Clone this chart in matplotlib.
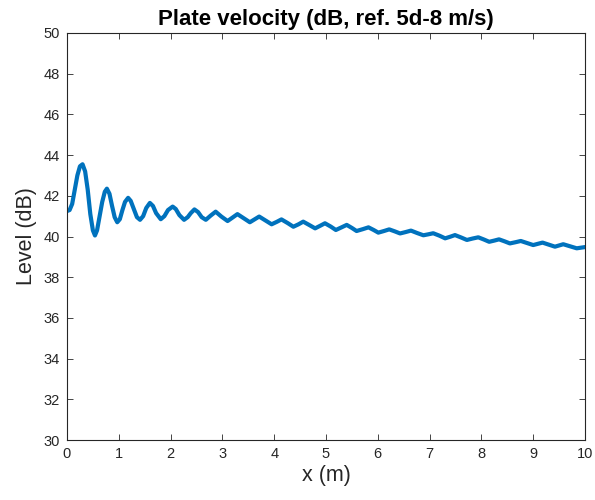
import matplotlib
matplotlib.use('Agg')
import matplotlib.pyplot as plt

# ── Data (x in m, level in dB) ───────────────────────────────────────────────

x_m = [0.00, 0.05, 0.10, 0.15, 0.20, 0.25, 0.30, 0.35, 0.40, 0.45,
       0.50, 0.54, 0.58, 0.63, 0.68, 0.73, 0.77, 0.82, 0.87, 0.92,
       0.97, 1.02, 1.07, 1.12, 1.18, 1.23, 1.29, 1.35, 1.41, 1.47,
       1.53, 1.60, 1.66, 1.72, 1.81, 1.88, 1.95, 2.04, 2.10, 2.17,
       2.26, 2.33, 2.39, 2.46, 2.53, 2.60, 2.68, 2.77, 2.87, 2.98,
       3.10, 3.19, 3.29, 3.41, 3.53, 3.62, 3.71, 3.83, 3.95, 4.05,
       4.14, 4.26, 4.37, 4.47, 4.56, 4.68, 4.79, 4.89, 4.98, 5.09,
       5.19, 5.30, 5.40, 5.50, 5.59, 5.71, 5.82, 5.92, 6.01, 6.12,
       6.22, 6.33, 6.43, 6.54, 6.64, 6.76, 6.88, 6.98, 7.07, 7.19,
       7.30, 7.40, 7.49, 7.61, 7.72, 7.83, 7.94, 8.05, 8.15, 8.25,
       8.34, 8.45, 8.55, 8.66, 8.76, 8.88, 9.00, 9.09, 9.18, 9.30,
       9.42, 9.50, 9.58, 9.71, 9.84, 9.92, 10.00]

level_db = [41.25, 41.30, 41.60, 42.30, 43.00, 43.45, 43.55, 43.20, 42.30, 41.10,
            40.30, 40.05, 40.30, 41.00, 41.70, 42.20, 42.35, 42.10, 41.50, 40.95,
            40.70, 40.85, 41.30, 41.70, 41.90, 41.75, 41.35, 40.95, 40.82, 41.00,
            41.40, 41.65, 41.50, 41.15, 40.85, 41.00, 41.30, 41.47, 41.35, 41.05,
            40.82, 40.95, 41.15, 41.33, 41.20, 40.95, 40.82, 41.02, 41.22, 40.98,
            40.76, 40.92, 41.10, 40.90, 40.70, 40.84, 40.98, 40.79, 40.60, 40.72,
            40.84, 40.66, 40.48, 40.60, 40.73, 40.56, 40.40, 40.53, 40.65, 40.49,
            40.32, 40.45, 40.57, 40.42, 40.27, 40.36, 40.45, 40.32, 40.19, 40.27,
            40.35, 40.25, 40.15, 40.22, 40.29, 40.17, 40.06, 40.11, 40.16, 40.04,
            39.91, 39.99, 40.07, 39.95, 39.83, 39.90, 39.96, 39.85, 39.74, 39.80,
            39.86, 39.76, 39.66, 39.72, 39.78, 39.68, 39.58, 39.64, 39.70, 39.60,
            39.50, 39.56, 39.62, 39.52, 39.42, 39.45, 39.48]

x_ticks = list(range(0, 11))
y_ticks = list(range(30, 51, 2))

# ── Figure ───────────────────────────────────────────────────────────────────

plt.rcParams['font.family'] = ['Liberation Sans', 'DejaVu Sans']

fig = plt.figure(figsize=(5.95, 5.0), dpi=100)
ax = fig.add_axes([0.1126, 0.12, 0.8706, 0.814])

ax.plot(x_m, level_db, color='#0072BD', lw=3.0, solid_capstyle='round')

ax.set_xlim(0, 10)
ax.set_ylim(30, 50)
ax.set_xticks(x_ticks)
ax.set_yticks(y_ticks)
ax.tick_params(direction='in', top=True, right=True, length=4, width=0.6,
               labelsize=10.5, colors='#262626', pad=5)
for sp in ax.spines.values():
    sp.set_linewidth(0.8)
    sp.set_color('#262626')

ax.set_xlabel('x (m)', fontsize=15.5, color='#262626', labelpad=3)
ax.set_ylabel('Level (dB)', fontsize=15.5, color='#262626', labelpad=5)
ax.set_title('Plate velocity (dB, ref. 5d-8 m/s)', fontsize=16,
             fontweight='bold', color='black', pad=6)

fig.savefig('out.png', dpi=100)
